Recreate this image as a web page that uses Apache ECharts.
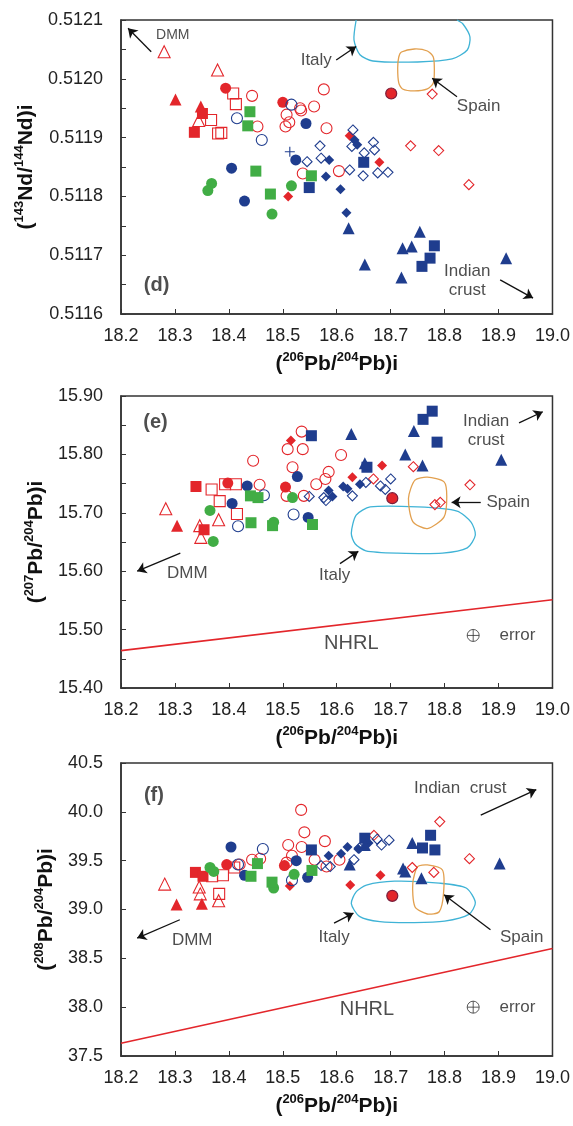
<!DOCTYPE html>
<html><head><meta charset="utf-8">
<script src="https://cdn.jsdelivr.net/npm/echarts@6/dist/echarts.min.js"></script>
<style>html,body{margin:0;padding:0;background:#fff}#c{width:573px;height:1126px}</style>
</head><body><div id="c"></div>
<script>
// ---------- tick labels ----------
const xTicks = [18.2,18.3,18.4,18.5,18.6,18.7,18.8,18.9,19.0];
const yTicks_d = [0.5116,0.5117,0.5118,0.5119,0.5120,0.5121];
const yTicks_e = [15.40,15.50,15.60,15.70,15.80,15.90];
const yTicks_f = [37.5,38.0,38.5,39.0,39.5,40.0,40.5];

// ---------- panel (d): 206Pb/204Pb vs 143Nd/144Nd ----------
const redTriF_d = [[18.301,0.511965],[18.348,0.511953]];
const redTriO_d = [[18.280,0.512046],[18.379,0.512015],[18.344,0.511929]];
const redSqF_d = [[18.336,0.511909],[18.351,0.511941]];
const redSqO_d = [[18.367,0.511930],[18.408,0.511975],[18.413,0.511957],[18.380,0.511907],[18.386,0.511908]];
const redCirF_d = [[18.394,0.511984],[18.500,0.511960]];
const redCirDark_d = [[18.701,0.511975]];
const redCirO_d = [[18.443,0.511971],[18.453,0.511919],[18.507,0.511939],[18.505,0.511919],[18.512,0.511926],[18.532,0.511950],[18.534,0.511946],[18.558,0.511953],[18.576,0.511982],[18.581,0.511916],[18.537,0.511839],[18.604,0.511843]];
const redDiaF_d = [[18.510,0.511800],[18.624,0.511903],[18.679,0.511858]];
const redDiaO_d = [[18.777,0.511974],[18.737,0.511886],[18.789,0.511878],[18.845,0.511820]];
const blueCirF_d = [[18.543,0.511924],[18.405,0.511848],[18.429,0.511792],[18.524,0.511862]];
const blueCirO_d = [[18.415,0.511933],[18.461,0.511896],[18.516,0.511956]];
const blueCross_d = [[18.513,0.511876]];
const blueSqF_d = [[18.549,0.511815],[18.650,0.511858],[18.781,0.511716],[18.773,0.511695],[18.758,0.511681]];
const blueTriF_d = [[18.622,0.511746],[18.652,0.511684],[18.722,0.511712],[18.739,0.511715],[18.754,0.511740],[18.720,0.511662],[18.914,0.511695]];
const blueDiaF_d = [[18.580,0.511834],[18.586,0.511862],[18.607,0.511812],[18.618,0.511772],[18.633,0.511896],[18.638,0.511888]];
const blueDiaO_d = [[18.569,0.511886],[18.545,0.511859],[18.571,0.511865],[18.630,0.511913],[18.628,0.511885],[18.651,0.511874],[18.624,0.511845],[18.649,0.511835],[18.668,0.511892],[18.670,0.511879],[18.676,0.511840],[18.695,0.511841]];
const greenCirF_d = [[18.368,0.511822],[18.361,0.511810],[18.480,0.511770],[18.516,0.511818]];
const greenSqF_d = [[18.439,0.511944],[18.435,0.511920],[18.450,0.511843],[18.477,0.511804],[18.553,0.511835]];
const italy_d = [[18.636,0.51210],[18.632,0.512066],[18.643,0.512041],[18.667,0.5120303],[18.750,0.5120286],[18.814,0.5120337],[18.842,0.512049],[18.847,0.5120711],[18.834,0.5120932],[18.823,0.51210]];
const spain_d = [[18.720,0.5120456],[18.744,0.5120507],[18.768,0.5120473],[18.779,0.5120371],[18.781,0.512015],[18.779,0.5119929],[18.768,0.5119827],[18.744,0.5119793],[18.722,0.5119827],[18.715,0.5119929],[18.713,0.5120184],[18.715,0.5120371]];
const notes_d = [['(d)',18.266,0.511649],['DMM',18.296,0.5120745],['Italy',18.562,0.512032],['Spain',18.863,0.5119526],['Indian',18.842,0.5116721],['crust',18.842,0.511641]];
const arrows_d = [[[18.256,0.512046],[18.213,0.512086]],[[18.599,0.512032],[18.636,0.512055]],[[18.823,0.5119696],[18.777,0.5120009]],[[18.903,0.511658],[18.964,0.511627]]];

// ---------- panel (e): 206Pb/204Pb vs 207Pb/204Pb ----------
const redTriF_e = [[18.304,15.678]];
const redTriO_e = [[18.283,15.707],[18.346,15.678],[18.348,15.658],[18.381,15.688]];
const redSqF_e = [[18.339,15.745],[18.354,15.671]];
const redSqO_e = [[18.368,15.740],[18.383,15.720],[18.393,15.749],[18.413,15.749],[18.415,15.698]];
const redCirF_e = [[18.398,15.751],[18.505,15.744]];
const redCirDark_e = [[18.703,15.725]];
const redCirO_e = [[18.535,15.839],[18.509,15.809],[18.537,15.809],[18.518,15.778],[18.445,15.789],[18.457,15.748],[18.507,15.729],[18.539,15.729],[18.562,15.749],[18.579,15.758],[18.585,15.770],[18.608,15.799]];
const redDiaF_e = [[18.515,15.824],[18.629,15.761],[18.684,15.781]];
const redDiaO_e = [[18.742,15.779],[18.847,15.748],[18.782,15.714],[18.792,15.718],[18.668,15.758]];
const blueCirF_e = [[18.434,15.746],[18.406,15.716],[18.527,15.762],[18.547,15.692]];
const blueCirO_e = [[18.465,15.730],[18.417,15.677],[18.520,15.697]];
const blueSqF_e = [[18.553,15.832],[18.760,15.860],[18.777,15.874],[18.786,15.821],[18.656,15.778]];
const blueTriF_e = [[18.627,15.835],[18.743,15.840],[18.727,15.800],[18.759,15.781],[18.905,15.791],[18.652,15.785]];
const blueDiaF_e = [[18.585,15.738],[18.592,15.728],[18.612,15.745],[18.620,15.741],[18.643,15.749]];
const blueDiaO_e = [[18.549,15.728],[18.576,15.726],[18.580,15.721],[18.629,15.729],[18.654,15.752],[18.681,15.746],[18.700,15.758],[18.690,15.740]];
const greenCirF_e = [[18.365,15.704],[18.371,15.651],[18.483,15.684],[18.518,15.726]];
const greenSqF_e = [[18.440,15.729],[18.454,15.726],[18.441,15.683],[18.481,15.678],[18.555,15.680]];
const nhrl_e = [[18.2,15.464],[19.0,15.551]];
const italy_e = [[18.627,15.665],[18.636,15.696],[18.662,15.710],[18.750,15.710],[18.823,15.703],[18.849,15.684],[18.857,15.662],[18.842,15.640],[18.796,15.631],[18.713,15.631],[18.654,15.635],[18.634,15.647]];
const spain_e = [[18.768,15.761],[18.799,15.753],[18.804,15.728],[18.799,15.693],[18.768,15.673],[18.741,15.685],[18.733,15.725],[18.745,15.756]];
const errorSym_e = [[18.853,15.490]];
const notes_e = [['(e)',18.264,15.854],['Indian',18.877,15.857],['crust',18.877,15.824],['Spain',18.918,15.718],['DMM',18.323,15.596],['Italy',18.596,15.593],['NHRL',18.627,15.476],['error',18.935,15.490]];
const arrows_e = [[[18.938,15.854],[18.982,15.873]],[[18.867,15.718],[18.813,15.718]],[[18.310,15.631],[18.230,15.600]],[[18.606,15.613],[18.640,15.634]]];

// ---------- panel (f): 206Pb/204Pb vs 208Pb/204Pb ----------
const redTriF_f = [[18.303,39.05],[18.350,39.06]];
const redTriO_f = [[18.281,39.26],[18.345,39.23],[18.347,39.16],[18.381,39.09]];
const redSqF_f = [[18.338,39.38],[18.352,39.34]];
const redSqO_f = [[18.369,39.34],[18.389,39.35],[18.382,39.16],[18.410,39.43]];
const redCirF_f = [[18.396,39.46],[18.503,39.45]];
const redCirDark_f = [[18.703,39.14]];
const redCirO_f = [[18.534,40.02],[18.540,39.79],[18.535,39.64],[18.510,39.66],[18.578,39.70],[18.517,39.55],[18.559,39.51],[18.507,39.48],[18.605,39.51],[18.443,39.51],[18.458,39.52],[18.420,39.46],[18.581,39.44]];
const redDiaF_f = [[18.513,39.24],[18.625,39.25],[18.681,39.35]];
const redDiaO_f = [[18.791,39.90],[18.846,39.52],[18.740,39.43],[18.780,39.38],[18.669,39.76]];
const blueCirF_f = [[18.404,39.64],[18.525,39.50],[18.546,39.33],[18.429,39.35]];
const blueCirO_f = [[18.463,39.62],[18.417,39.46],[18.517,39.30]];
const blueSqF_f = [[18.553,39.61],[18.652,39.73],[18.774,39.76],[18.759,39.63],[18.782,39.61]];
const blueTriF_f = [[18.740,39.68],[18.723,39.42],[18.727,39.39],[18.757,39.32],[18.624,39.46],[18.902,39.47],[18.652,39.66]];
const blueDiaF_f = [[18.585,39.55],[18.608,39.57],[18.620,39.64],[18.640,39.62],[18.659,39.68]];
const blueDiaO_f = [[18.571,39.45],[18.588,39.44],[18.632,39.51],[18.642,39.63],[18.683,39.66],[18.697,39.71],[18.675,39.72]];
const greenCirF_f = [[18.365,39.43],[18.372,39.39],[18.483,39.22],[18.521,39.36]];
const greenSqF_f = [[18.453,39.47],[18.441,39.34],[18.480,39.28],[18.554,39.40]];
const nhrl_f = [[18.2,37.63],[19.0,38.60]];
const italy_f = [[18.627,39.06],[18.636,39.18],[18.655,39.25],[18.707,39.29],[18.790,39.27],[18.840,39.22],[18.857,39.07],[18.845,38.95],[18.800,38.88],[18.744,38.865],[18.680,38.875],[18.642,38.93]];
const spain_f = [[18.768,39.456],[18.796,39.404],[18.798,39.166],[18.790,38.977],[18.768,38.954],[18.745,39.029],[18.741,39.268],[18.750,39.439]];
const errorSym_f = [[18.853,38.00]];
const notes_f = [['(f)',18.261,40.17],['Indian  crust',18.829,40.24],['DMM',18.332,38.684],['Italy',18.595,38.72],['Spain',18.943,38.72],['NHRL',18.656,37.976],['error',18.935,38.00]];
const arrows_f = [[[18.867,39.966],[18.970,40.228]],[[18.309,38.895],[18.230,38.707]],[[18.595,38.86],[18.631,38.963]],[[18.885,38.793],[18.799,39.15]]];

// ---------- styling ----------
const FONT = "'Liberation Sans', Arial, Helvetica, sans-serif";
const RED = '#e3262b', BLUE = '#1f3d8e', GREEN = '#41ad45', CYAN = '#3fb3d6', ORANGE = '#e2a04f', INK = '#222';
const PLUS = 'path://M5,0 L5,10 M0,5 L10,5';
const ERR = 'path://M0,6 A6,6 0 1,1 12,6 A6,6 0 1,1 0,6 Z M6,0 L6,12 M0,6 L12,6';

const STY = {
  redTriF:{s:'triangle',z:12,c:RED,f:true}, redTriO:{s:'triangle',z:12,c:RED,f:false},
  redSqF:{s:'rect',z:11,c:RED,f:true}, redSqO:{s:'rect',z:11,c:RED,f:false},
  redCirF:{s:'circle',z:11,c:RED,f:true}, redCirDark:{s:'circle',z:11,c:RED,f:true,b:'#7a1d3a'},
  redCirO:{s:'circle',z:11,c:RED,f:false},
  redDiaF:{s:'diamond',z:10,c:RED,f:true}, redDiaO:{s:'diamond',z:10,c:RED,f:false},
  blueCirF:{s:'circle',z:11,c:BLUE,f:true}, blueCirO:{s:'circle',z:11,c:BLUE,f:false},
  blueCross:{s:PLUS,z:10,c:BLUE,f:false},
  blueSqF:{s:'rect',z:11,c:BLUE,f:true}, blueTriF:{s:'triangle',z:12,c:BLUE,f:true},
  blueDiaF:{s:'diamond',z:10,c:BLUE,f:true}, blueDiaO:{s:'diamond',z:10,c:BLUE,f:false},
  greenCirF:{s:'circle',z:11,c:GREEN,f:true}, greenSqF:{s:'rect',z:11,c:GREEN,f:true}
};

const PANELS = [
  {sets:{redTriO:redTriO_d,redTriF:redTriF_d,redSqO:redSqO_d,redSqF:redSqF_d,redCirO:redCirO_d,redCirF:redCirF_d,redCirDark:redCirDark_d,redDiaO:redDiaO_d,redDiaF:redDiaF_d,blueCirO:blueCirO_d,blueCirF:blueCirF_d,blueCross:blueCross_d,blueDiaO:blueDiaO_d,blueDiaF:blueDiaF_d,blueSqF:blueSqF_d,blueTriF:blueTriF_d,greenCirF:greenCirF_d,greenSqF:greenSqF_d},
   italy:italy_d, italyOpen:true, spain:spain_d, notes:notes_d, arrows:arrows_d, nhrl:null, err:null},
  {sets:{redTriO:redTriO_e,redTriF:redTriF_e,redSqO:redSqO_e,redSqF:redSqF_e,redCirO:redCirO_e,redCirF:redCirF_e,redCirDark:redCirDark_e,redDiaO:redDiaO_e,redDiaF:redDiaF_e,blueCirO:blueCirO_e,blueCirF:blueCirF_e,blueDiaO:blueDiaO_e,blueDiaF:blueDiaF_e,blueSqF:blueSqF_e,blueTriF:blueTriF_e,greenCirF:greenCirF_e,greenSqF:greenSqF_e},
   italy:italy_e, italyOpen:false, spain:spain_e, notes:notes_e, arrows:arrows_e, nhrl:nhrl_e, err:errorSym_e},
  {sets:{redTriO:redTriO_f,redTriF:redTriF_f,redSqO:redSqO_f,redSqF:redSqF_f,redCirO:redCirO_f,redCirF:redCirF_f,redCirDark:redCirDark_f,redDiaO:redDiaO_f,redDiaF:redDiaF_f,blueCirO:blueCirO_f,blueCirF:blueCirF_f,blueDiaO:blueDiaO_f,blueDiaF:blueDiaF_f,blueSqF:blueSqF_f,blueTriF:blueTriF_f,greenCirF:greenCirF_f,greenSqF:greenSqF_f},
   italy:italy_f, italyOpen:false, spain:spain_f, notes:notes_f, arrows:arrows_f, nhrl:nhrl_f, err:errorSym_f}
];

const GRID_POS = [{top:20,height:294},{top:396,height:292},{top:763,height:293}];
const Y_AX = [
  {ticks:yTicks_d, step:0.00005, dec:4, every:2, gap:83, name:'{p|(}{s|143}{p|Nd/}{s|144}{p|Nd)i}'},
  {ticks:yTicks_e, step:0.05, dec:2, every:2, gap:62, name:'{p|(}{s|207}{p|Pb/}{s|204}{p|Pb)i}'},
  {ticks:yTicks_f, step:0.5, dec:1, every:1, gap:59, name:'{p|(}{s|208}{p|Pb/}{s|204}{p|Pb)i}'}
];
const RICH = {
  p:{fontSize:21,fontWeight:'bold',fontFamily:FONT,color:'#111',lineHeight:24,verticalAlign:'bottom'},
  s:{fontSize:13,fontWeight:'bold',fontFamily:FONT,color:'#111',lineHeight:13,verticalAlign:'top'}
};

const grids=[], xAxes=[], yAxes=[], series=[];
PANELS.forEach((P,i)=>{
  grids.push({left:121,width:435,top:GRID_POS[i].top,height:GRID_POS[i].height,show:true,borderColor:'#333',borderWidth:1.5,backgroundColor:'transparent'});
  xAxes.push({type:'value',gridIndex:i,min:xTicks[0],max:xTicks[xTicks.length-1],interval:0.1,
    axisLine:{show:true,lineStyle:{color:'#333',width:1.5}},
    axisTick:{show:true,inside:true,length:5,lineStyle:{color:'#333',width:1}},
    splitLine:{show:false},
    axisLabel:{fontSize:18,fontFamily:FONT,color:INK,margin:13,formatter:v=>v.toFixed(1)},
    name:'{p|(}{s|206}{p|Pb/}{s|204}{p|Pb)i}',nameLocation:'middle',nameGap:37,
    nameTextStyle:{rich:RICH}});
  const Y = Y_AX[i], ymin = Y.ticks[0], ymax = Y.ticks[Y.ticks.length-1];
  yAxes.push({type:'value',gridIndex:i,min:ymin,max:ymax,interval:Y.step,
    axisLine:{show:true,lineStyle:{color:'#333',width:1.5}},
    axisTick:{show:true,inside:true,length:5,lineStyle:{color:'#333',width:1}},
    splitLine:{show:false},
    axisLabel:{fontSize:18,fontFamily:FONT,color:INK,margin:18,showMinLabel:true,showMaxLabel:true,
      formatter:v=>{const k=Math.round((v-ymin)/Y.step);return k%Y.every===0?v.toFixed(Y.dec):'';}},
    name:Y.name,nameLocation:'middle',nameGap:Y.gap,nameRotate:90,
    nameTextStyle:{rich:RICH}});

  // outlines (Italy, Spain)
  const outline=(pts,color,open)=>({type:'custom',xAxisIndex:i,yAxisIndex:i,data:[pts[0]],silent:true,z:1,animation:false,
    renderItem:(params,api)=>({type:open?'polyline':'polygon',
      shape:{points:pts.map(p=>api.coord(p)),smooth:0.25},
      style:{fill:'none',stroke:color,lineWidth:1.3}})});
  series.push(outline(P.italy,CYAN,P.italyOpen));
  series.push(outline(P.spain,ORANGE,false));

  if(P.nhrl){
    series.push({type:'line',xAxisIndex:i,yAxisIndex:i,data:P.nhrl,showSymbol:false,silent:true,animation:false,
      lineStyle:{color:RED,width:1.6},z:2});
  }
  Object.keys(P.sets).forEach(k=>{
    const st=STY[k];
    series.push({type:'scatter',xAxisIndex:i,yAxisIndex:i,data:P.sets[k],symbol:st.s,symbolSize:st.z,silent:true,animation:false,z:3,
      itemStyle: st.f ? {color:st.c,borderColor:st.b||st.c,borderWidth:st.b?1.2:0,opacity:1}
                      : {color:'rgba(255,255,255,0)',borderColor:st.c,borderWidth:1.1,opacity:1}});
  });
  if(P.err){
    series.push({type:'scatter',xAxisIndex:i,yAxisIndex:i,data:P.err,symbol:ERR,symbolSize:12,silent:true,animation:false,z:3,
      itemStyle:{color:'rgba(255,255,255,0)',borderColor:'#333',borderWidth:1}});
  }
  // text notes
  series.push({type:'scatter',xAxisIndex:i,yAxisIndex:i,silent:true,animation:false,z:5,symbolSize:0,
    itemStyle:{color:'rgba(0,0,0,0)'},
    data:P.notes.map(n=>{
      const t=n[0]; const isTag=t.startsWith('(');
      let fs=17; if(isTag) fs=20; else if(t==='NHRL') fs=20; else if(t==='DMM'&&i===0) fs=14;
      return {value:[n[1],n[2]],label:{show:true,position:'inside',formatter:t,fontFamily:FONT,fontSize:fs,
        fontWeight:isTag?'bold':'normal',color:INK}};
    })});
  // arrows
  series.push({type:'scatter',xAxisIndex:i,yAxisIndex:i,silent:true,animation:false,symbolSize:0,data:[P.arrows[0][0]],
    itemStyle:{color:'#111'},
    markLine:{silent:true,animation:false,symbol:['none','arrow'],symbolSize:9,label:{show:false},
      itemStyle:{color:'#111'},
      lineStyle:{color:'#111',width:1.3,type:'solid'},
      data:P.arrows.map(a=>[{coord:a[0]},{coord:a[1]}])}});
});

const chart = echarts.init(document.getElementById('c'),null,{renderer:'canvas'});
chart.setOption({animation:false,backgroundColor:'#fff',grid:grids,xAxis:xAxes,yAxis:yAxes,series:series});
</script>
</body></html>
